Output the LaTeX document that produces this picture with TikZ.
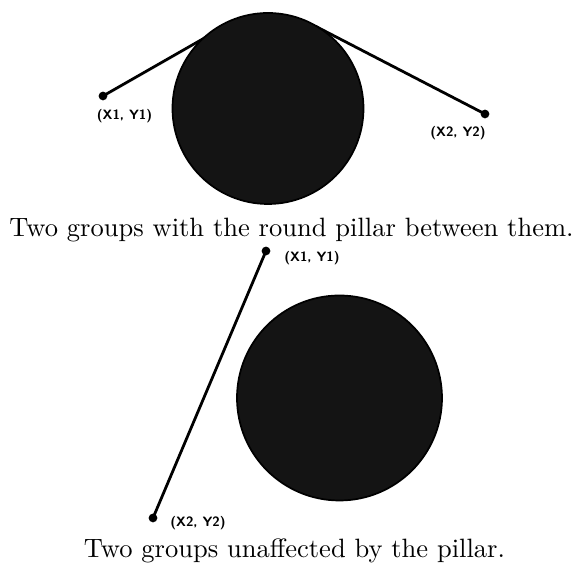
\documentclass[tikz,border=0pt]{standalone}
\begin{document}
\begin{tikzpicture}[x=0.377pt,y=-0.377pt,
  pillar/.style={circle,draw=black,fill=black!92,line width=0.65pt,inner sep=0pt},
  dot/.style={circle,fill=black,inner sep=0pt,minimum size=3.3pt},
  conn/.style={line width=1.05pt},
  ptlabel/.style={font=\fontsize{5.1}{6}\selectfont\sffamily\bfseries,inner sep=0pt},
  caption/.style={anchor=base,inner sep=0pt}]
\useasboundingbox (0,0) rectangle (577,566);
% top scene
\node[dot] (p1) at (103,96) {};
\node[dot] (p2) at (485,114) {};
\coordinate (e1) at (215,32);
\coordinate (e2) at (315,26);
\draw[conn] (p1.center) -- (e1);
\draw[conn] (p2.center) -- (e2);
\node[pillar,minimum size=191*0.377pt] (c1) at (268,108.5) {};
\node[ptlabel] (l1) at (124.5,116) {(X1, Y1)};
\node[ptlabel] (l2) at (458,133) {(X2, Y2)};
\node[caption] (cap1) at (291.5,237) {Two groups with the round pillar between them.};
% bottom scene
\node[pillar,minimum size=205*0.377pt] (c2) at (339.5,398) {};
\node[dot] (q1) at (266,251) {};
\node[dot] (q2) at (153,518) {};
\node[ptlabel] (m1) at (312,258) {(X1, Y1)};
\node[ptlabel] (m2) at (198,523) {(X2, Y2)};
\draw[conn] (q1.center) -- (q2.center);
\node[caption] (cap2) at (294.5,558) {Two groups unaffected by the pillar.};
\end{tikzpicture}
\end{document}
